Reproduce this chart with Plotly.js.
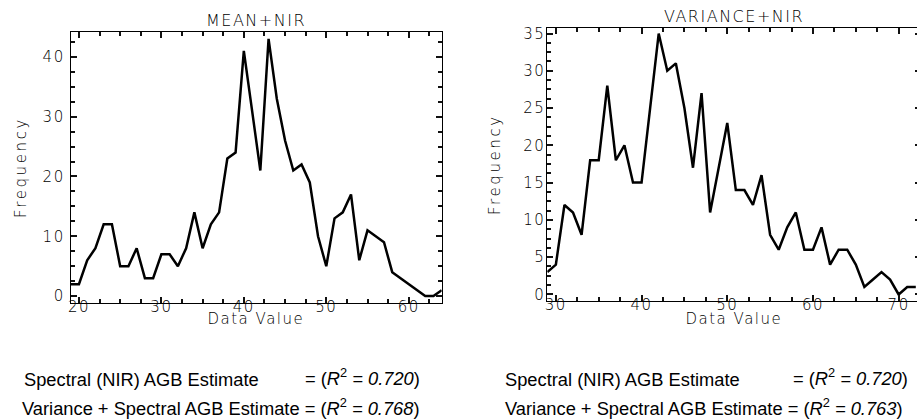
<!DOCTYPE html>
<html><head><meta charset="utf-8">
<script src="https://cdn.plot.ly/plotly-3.0.1.min.js"></script>
<style>
html,body{margin:0;padding:0;overflow:hidden;background:#fff;width:917px;height:419px;}
#chart{width:930px;height:419px;}
.xtick text,.ytick text,.x2tick text,.y2tick text,
.annotation[data-index="0"] text,.annotation[data-index="1"] text,
.annotation[data-index="2"] text,.annotation[data-index="3"] text{letter-spacing:1.5px}
.ytitle,.y2title{letter-spacing:2.6px}
</style></head><body><div id="chart"></div>
<script>
// MEAN+NIR histogram
const meanBins = [19,20,21,22,23,24,25,26,27,28,29,30,31,32,33,34,35,36,37,38,39,40,41,42,43,44,45,46,47,48,49,50,51,52,53,54,55,56,57,58,59,60,61,62,63,64];
const meanFreq = [2,2,6,8,12,12,5,5,8,3,3,7,7,5,8,14,8,12,14,23,24,41,31,21,43,33,26,21,22,19,10,5,13,14,17,6,11,10,9,4,3,2,1,0,0,1];
// VARIANCE+NIR histogram
const varBins = [29,30,31,32,33,34,35,36,37,38,39,40,41,42,43,44,45,46,47,48,49,50,51,52,53,54,55,56,57,58,59,60,61,62,63,64,65,66,67,68,69,70,71,72];
const varFreq = [3,4,12,11,8,18,18,28,18,20,15,15,25,35,30,31,25,17,27,11,17,23,14,14,12,16,8,6,9,11,6,6,9,4,6,6,4,1,2,3,2,0,1,1];

const meanXTicks = [20,30,40,50,60];
const meanYTicks = [0,10,20,30,40];
const varXTicks = [30,40,50,60,70];
const varYTicks = [0,5,10,15,20,25,30,35];

const titles = ["MEAN+NIR","VARIANCE+NIR"];
const xTitle = "Data Value";
const yTitle = "Frequency";
const labelLeft = "Spectral (NIR) AGB Estimate";
const meanR2 = ["0.720","0.768"];
const varR2 = ["0.720","0.763"];

const W = 930, H = 419;
const px = v => v / W;
const py = v => 1 - v / H;

const idlFont = {family: "DejaVu Sans", size: 15, color: "#000", weight: 200};
const txtFont = {family: "Liberation Sans, Arial", size: 18.3, color: "#000"};

function axis(range, ticks, dom, minorDt, extra) {
  return Object.assign({
    range: range, domain: dom, tickmode: "array", tickvals: ticks, ticktext: ticks.map(String),
    ticks: "inside", ticklen: 6, tickwidth: 2, tickcolor: "#111",
    showline: true, linecolor: "#000", linewidth: 1, mirror: "ticks",
    showgrid: false, zeroline: false, tickfont: idlFont, ticklabelstandoff: -10,
    minor: {ticks: "inside", ticklen: 4, tickwidth: 2, tickcolor: "#111", tick0: 0, dtick: minorDt, showgrid: false}
  }, extra);
}

const traces = [
  {x: meanBins, y: meanFreq, type: "scatter", mode: "lines", line: {color: "#000", width: 2.5}, xaxis: "x", yaxis: "y", hoverinfo: "skip"},
  {x: varBins, y: varFreq, type: "scatter", mode: "lines", line: {color: "#000", width: 2.5}, xaxis: "x2", yaxis: "y2", hoverinfo: "skip"}
];

const ann = (text, x, y, xa, font) => ({text: text, xref: "paper", yref: "paper", x: px(x), y: py(y), xanchor: xa, yanchor: "middle", showarrow: false, font: font});
const titleFont = Object.assign({}, idlFont, {size: 16});

const layout = {
  width: W, height: H, margin: {l: 0, r: 0, t: 0, b: 0},
  paper_bgcolor: "#fff", plot_bgcolor: "#fff", showlegend: false,
  xaxis: axis([19, 64], meanXTicks, [px(70.7), px(441.7)], 2.5, {anchor: "y"}),
  yaxis: axis([-1.1, 44.1], meanYTicks, [1 - 302.7 / H, 1 - 32.3 / H], 2.5, {anchor: "x", title: {text: yTitle, font: idlFont, standoff: 12}, ticklabelstandoff: 2}),
  xaxis2: axis([29, 72.55], varXTicks, [px(547.3), px(920.5)], 2.5, {anchor: "y2"}),
  yaxis2: axis([-0.88, 35.7], varYTicks, [1 - 301 / H, 1 - 28.3 / H], 1.25, {anchor: "x2", title: {text: yTitle, font: idlFont, standoff: 18}, ticklabelstandoff: -2}),
  annotations: [
    ann(titles[0], 256.2, 20.8, "center", titleFont),
    ann(titles[1], 734, 16.5, "center", titleFont),
    ann(xTitle, 256.2, 318.5, "center", idlFont),
    ann(xTitle, 734, 319, "center", idlFont),
    ann(labelLeft, 21.7, 379, "left", txtFont),
    ann("= (<i>R</i><sup>2</sup><i> = " + meanR2[0] + "</i>)", 421.7, 377, "right", txtFont),
    ann("Variance + Spectral AGB Estimate = (<i>R</i><sup>2</sup><i> = " + meanR2[1] + "</i>)", 20, 406.5, "left", txtFont),
    ann(labelLeft, 503.3, 379, "left", txtFont),
    ann("= (<i>R</i><sup>2</sup><i> = " + varR2[0] + "</i>)", 910, 377, "right", txtFont),
    ann("Variance + Spectral AGB Estimate = (<i>R</i><sup>2</sup><i> = " + varR2[1] + "</i>)", 503.3, 406.5, "left", txtFont)
  ]
};

Plotly.newPlot("chart", traces, layout, {displayModeBar: false});
</script></body></html>
